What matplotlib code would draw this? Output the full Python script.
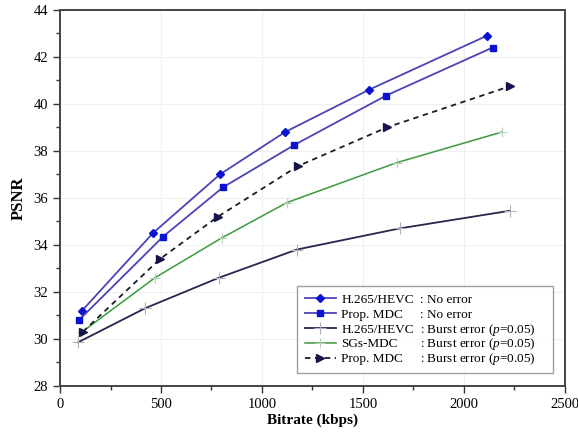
import matplotlib
matplotlib.use('Agg')
import matplotlib.pyplot as plt
from matplotlib.ticker import MultipleLocator

plt.rcParams['font.family'] = ['Liberation Serif', 'DejaVu Serif']
plt.rcParams['mathtext.fontset'] = 'custom'
plt.rcParams['mathtext.it'] = 'Liberation Serif:italic'
plt.rcParams['mathtext.rm'] = 'Liberation Serif'

# datos
hevc_x = [109, 460, 792, 1114, 1530, 2114]
hevc_y = [31.2, 34.5, 37.0, 38.8, 40.6, 42.9]

mdc_x = [94, 510, 807, 1160, 1614, 2143]
mdc_y = [30.8, 34.35, 36.45, 38.25, 40.35, 42.4]

hevc_burst_x = [89, 421, 787, 1173, 1683, 2228]
hevc_burst_y = [29.85, 31.3, 32.6, 33.8, 34.7, 35.45]

sgs_x = [110, 470, 802, 1124, 1668, 2188]
sgs_y = [30.3, 32.6, 34.3, 35.8, 37.5, 38.8]

mdc_burst_x = [113, 495, 782, 1178, 1619, 2228]
mdc_burst_y = [30.3, 33.4, 35.2, 37.35, 39.0, 40.75]

nombres = ['H.265/HEVC', 'Prop. MDC', 'H.265/HEVC', 'SGs-MDC', 'Prop. MDC']
burst = r': Burst error ($p$=$\mathit{0.05}$)'
condiciones = [': No error', ': No error', burst, burst, burst]

fig = plt.figure(figsize=(5.78, 4.32), dpi=100)
ax = fig.add_axes([0.104, 0.107, 0.873, 0.870])

ax.plot(hevc_x, hevc_y, color='#4b44b8', lw=1.3, marker='D', ms=4.5,
        mfc='#0a14d0', mec='#0a14d0', label=nombres[0])
ax.plot(mdc_x, mdc_y, color='#4b44b8', lw=1.3, marker='s', ms=4.5,
        mfc='#0a14d0', mec='#0a14d0', label=nombres[1])
ax.plot(hevc_burst_x, hevc_burst_y, color='#26264a', lw=1.3, marker='+', ms=8,
        mew=0.8, mfc='#b0b0b8', mec='#b0b0b8', label=nombres[2])
ax.plot(sgs_x, sgs_y, color='#3c9a3c', lw=1.1, marker='+', ms=7,
        mew=0.8, mec='#b8d0b8', label=nombres[3])
ax.plot(mdc_burst_x, mdc_burst_y, color='#1a1a2a', lw=1.3, ls=(0, (3, 2.5)),
        marker='>', ms=5.5, mfc='#15154a', mec='#15154a', label=nombres[4])

ax.set_xlim(0, 2500)
ax.set_ylim(28, 44)
ax.xaxis.set_major_locator(MultipleLocator(500))
ax.xaxis.set_minor_locator(MultipleLocator(250))
ax.yaxis.set_major_locator(MultipleLocator(2))
ax.yaxis.set_minor_locator(MultipleLocator(1))
ax.tick_params(which='both', direction='out', top=False, right=False,
               labelsize=10.5, color='#333333', width=1)
ax.tick_params(which='major', length=5)
ax.tick_params(which='minor', length=3)
ax.grid(True, which='major', color='#f0f0f0', lw=0.8)
for s in ax.spines.values():
    s.set_color('#444444')
    s.set_linewidth(1.4)

ax.set_xlabel('Bitrate (kbps)', fontsize=11, fontweight='bold', labelpad=2)
ax.set_ylabel('PSNR', fontsize=12, fontweight='bold', labelpad=5)

leg = ax.legend(loc='lower left', bbox_to_anchor=(0.47, 0.035, 0.506, 0.247),
                mode='expand', fontsize=9.5, frameon=True, fancybox=False,
                edgecolor='#888888', handlelength=2.4, handletextpad=0.4,
                labelspacing=0.2, borderpad=0.55, borderaxespad=0)
leg.get_frame().set_linewidth(1.0)

fig.canvas.draw()
textos = leg.get_texts()
x_col = max(t.get_window_extent().x1 for t in textos) + 6
for t, cond in zip(textos, condiciones):
    bb = t.get_window_extent()
    xf, yf = fig.transFigure.inverted().transform((x_col, (bb.y0 + bb.y1) / 2))
    fig.text(xf, yf, cond, fontsize=9.5, va='center', ha='left')

fig.savefig('out.png', dpi=100)
